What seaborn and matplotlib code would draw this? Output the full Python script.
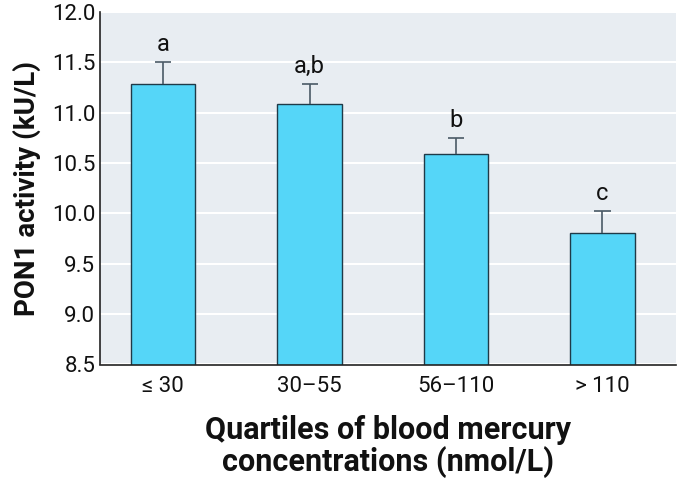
import pandas as pd
import matplotlib.pyplot as plt
import seaborn as sns

# values
quartiles = ["≤ 30", "30–55", "56–110", "> 110"]
pon1 = [11.29, 11.09, 10.59, 9.81]
sem = [0.21, 0.20, 0.16, 0.21]
letters = ["a", "a,b", "b", "c"]

df = pd.DataFrame({"quartile": quartiles, "pon1": pon1})

sns.set_style("whitegrid", {"axes.facecolor": "#e8edf2", "grid.color": "white",
                            "axes.edgecolor": "#222222"})
plt.rcParams["font.family"] = ["Roboto", "DejaVu Sans"]

fig, ax = plt.subplots(figsize=(6.86, 4.86), dpi=100)
sns.barplot(data=df, x="quartile", y="pon1", color="#55d6f8", saturation=1,
            edgecolor="#1f3a48", linewidth=1, width=0.44, ax=ax, zorder=2)

# upper error bars only
xs = range(len(quartiles))
tops = [v + s for v, s in zip(pon1, sem)]
ax.vlines(xs, pon1, tops, color="#4a5a66", linewidth=1.2, zorder=3)
ax.hlines(tops, [x - 0.055 for x in xs], [x + 0.055 for x in xs],
          color="#4a5a66", linewidth=1.2, zorder=3)

for i, (t, lab) in enumerate(zip(tops, letters)):
    ax.text(i, t + 0.06, lab, ha="center", va="bottom", fontsize=17, color="#111111")

ax.set_ylim(8.5, 12.0)
ax.set_yticks([8.5, 9.0, 9.5, 10.0, 10.5, 11.0, 11.5, 12.0])
ax.set_xlim(-0.43, 3.5)
ax.grid(axis="x", visible=False)
ax.grid(axis="y", color="white", linewidth=1.5)
ax.set_axisbelow(True)
sns.despine(ax=ax, top=True, right=True)
ax.spines["left"].set_linewidth(1.2)
ax.spines["bottom"].set_linewidth(1.2)
ax.tick_params(axis="both", labelsize=16, colors="#111111", length=0)
ax.tick_params(axis="x", pad=8)
ax.set_ylabel("PON1 activity (kU/L)", fontsize=20, fontweight="bold", color="#111111",
              labelpad=8)
ax.set_xlabel("Quartiles of blood mercury\nconcentrations (nmol/L)", fontsize=22,
              fontweight="bold", labelpad=13, color="#111111", linespacing=1.05)

plt.subplots_adjust(left=0.146, right=0.985, top=0.975, bottom=0.25)
plt.savefig("out.png", dpi=100)
